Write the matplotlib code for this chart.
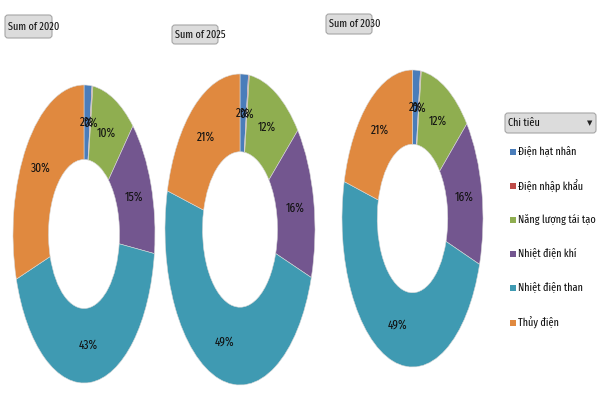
import matplotlib
matplotlib.use("Agg")
import matplotlib.pyplot as plt
from matplotlib.patches import FancyBboxPatch, Rectangle

plt.rcParams['font.family'] = ['Fira Sans Extra Condensed', 'DejaVu Sans']

# data
categories = ["Điện hạt nhân", "Điện nhập khẩu", "Năng lượng tái tạo",
              "Nhiệt điện khí", "Nhiệt điện than", "Thủy điện"]
values_2020 = [1.8, 0.2, 10.1, 15.0, 43.0, 29.9]
values_2025 = [1.8, 0.2, 12.0, 16.0, 49.0, 21.0]
values_2030 = [1.8, 0.2, 12.0, 16.0, 49.0, 21.0]
titles = ["Sum of 2020", "Sum of 2025", "Sum of 2030"]
legend_title = "Chi tiêu"

colors = ['#4a7dba', '#be4b48', '#8fae50', '#73568f', '#3f9ab2', '#e0893f']

fig = plt.figure(figsize=(6, 4), dpi=100)
W, H = 600, 400

def px_axes(x0, y0, x1, y1):
    return fig.add_axes([x0 / W, 1 - y1 / H, (x1 - x0) / W, (y1 - y0) / H])

# donut boxes in pixel coords (x0, y0, x1, y1)
boxes = [(13, 85, 155, 383), (165, 74, 315, 385), (342, 70, 483, 367)]
for vals, box in zip([values_2020, values_2025, values_2030], boxes):
    ax = px_axes(*box)
    ax.pie(vals, colors=colors, startangle=90, counterclock=False,
           wedgeprops=dict(width=0.5, edgecolor='#d8d8d8', linewidth=0.4),
           autopct=lambda p: f'{p:.0f}%', pctdistance=0.75,
           textprops=dict(fontsize=9, color='#111111'))
    ax.set_aspect('auto')
    ax.set_xlim(-1, 1)
    ax.set_ylim(-1, 1)

# overlay for buttons and legend
ov = fig.add_axes([0, 0, 1, 1])
ov.set_xlim(0, W)
ov.set_ylim(H, 0)
ov.axis('off')

def button(x0, y0, x1, y1, label, arrow=False):
    ov.add_patch(FancyBboxPatch((x0, y0), x1 - x0, y1 - y0,
                                boxstyle="round,pad=0,rounding_size=3",
                                facecolor='#dcdcdc', edgecolor='#a6a6a6',
                                linewidth=0.8))
    ov.text(x0 + 3, (y0 + y1) / 2, label, fontsize=8, va='center',
            ha='left', color='#111111')
    if arrow:
        ov.text(x1 - 6, (y0 + y1) / 2, '▼', fontsize=5, va='center',
                ha='center', color='#222222', family='DejaVu Sans')

title_boxes = [(5, 15, 52, 38), (172, 25, 218, 44), (326, 14, 372, 34)]
for t, b in zip(titles, title_boxes):
    button(*b, t)

button(505, 113, 596, 133, legend_title, arrow=True)

leg_y = [152, 186, 220, 254, 288, 323]
for cat, col, y in zip(categories, colors, leg_y):
    ov.add_patch(Rectangle((510, y - 3), 6, 6, facecolor=col, edgecolor='none'))
    ov.text(518, y, cat, fontsize=8, va='center', ha='left', color='#111111')

fig.savefig("out.png", dpi=100)
